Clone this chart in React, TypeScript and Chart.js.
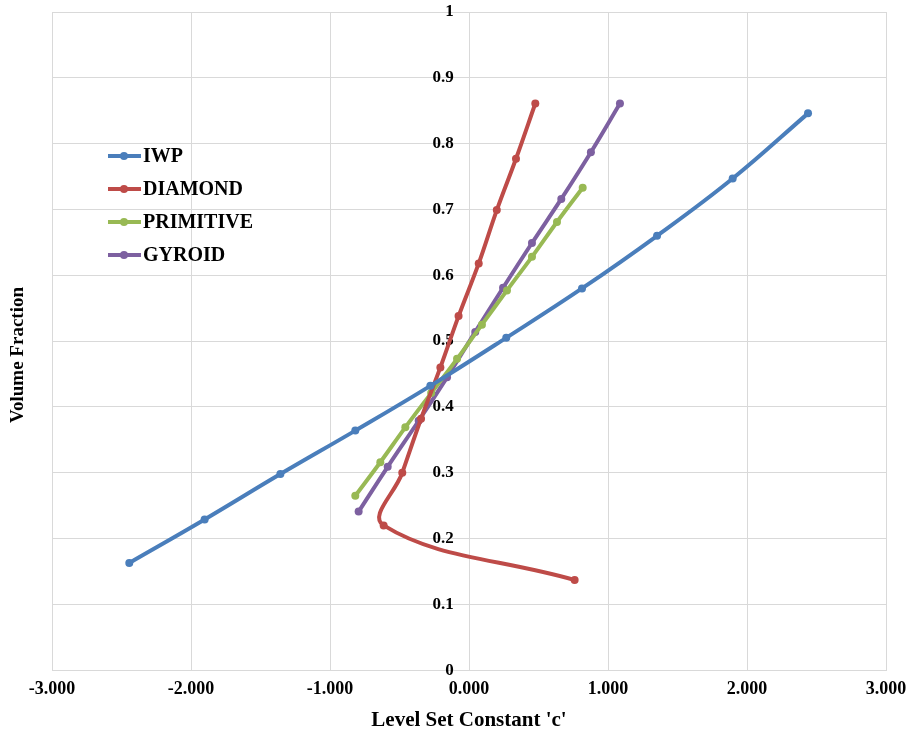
import React, { useEffect, useRef } from "react";
import { Chart, registerables } from "chart.js";

Chart.register(...registerables);

const SERIES_NAMES = ["IWP", "DIAMOND", "PRIMITIVE", "GYROID"];
const SERIES_COLORS = ["#4A7EBB", "#BE4B48", "#98B954", "#7D60A0"];

const IWP_X = [-2.444, -1.902, -1.357, -0.818, -0.278, 0.268, 0.813, 1.353, 1.897, 2.439];
const IWP_Y = [0.163, 0.229, 0.298, 0.364, 0.432, 0.505, 0.580, 0.660, 0.747, 0.846];

const DIAMOND_X = [0.76, -0.614, -0.48, -0.345, -0.206, -0.075, 0.07, 0.2, 0.338, 0.477];
const DIAMOND_Y = [0.137, 0.220, 0.300, 0.382, 0.460, 0.538, 0.618, 0.699, 0.777, 0.861];

const PRIMITIVE_X = [-0.818, -0.638, -0.458, -0.272, -0.086, 0.093, 0.273, 0.453, 0.633, 0.818];
const PRIMITIVE_Y = [0.265, 0.316, 0.369, 0.421, 0.473, 0.525, 0.577, 0.628, 0.681, 0.733];

const GYROID_X = [-0.794, -0.585, -0.362, -0.158, 0.045, 0.245, 0.453, 0.664, 0.877, 1.086];
const GYROID_Y = [0.241, 0.309, 0.379, 0.445, 0.514, 0.581, 0.649, 0.716, 0.787, 0.861];

const X_TITLE = "Level Set Constant 'c'";
const Y_TITLE = "Volume Fraction";

const FONT_FAMILY = "'Liberation Serif', 'Times New Roman', serif";

function pairs(xs: number[], ys: number[]) {
  return xs.map((x, i) => ({ x, y: ys[i] }));
}

const customDecor = {
  id: "customDecor",
  afterDraw(chart: any) {
    const ctx = chart.ctx;
    ctx.save();
    ctx.translate(18, 355);
    ctx.rotate(-Math.PI / 2);
    ctx.font = `bold 19px ${FONT_FAMILY}`;
    ctx.fillStyle = "#000";
    ctx.textAlign = "center";
    ctx.textBaseline = "middle";
    ctx.fillText(Y_TITLE, 0, 0);
    ctx.restore();

    ctx.save();
    ctx.font = `bold 20px ${FONT_FAMILY}`;
    ctx.textBaseline = "middle";
    ctx.textAlign = "left";
    SERIES_NAMES.forEach((name, i) => {
      const y = 156 + i * 33;
      ctx.strokeStyle = SERIES_COLORS[i];
      ctx.lineWidth = 4;
      ctx.beginPath();
      ctx.moveTo(108, y);
      ctx.lineTo(141, y);
      ctx.stroke();
      ctx.fillStyle = SERIES_COLORS[i];
      ctx.beginPath();
      ctx.arc(124, y, 4, 0, Math.PI * 2);
      ctx.fill();
      ctx.fillStyle = "#000";
      ctx.fillText(name, 143, y + 1);
    });
    ctx.restore();
  },
};

export default function App() {
  const canvasRef = useRef<HTMLCanvasElement | null>(null);

  useEffect(() => {
    if (!canvasRef.current) return;
    const allX = [IWP_X, DIAMOND_X, PRIMITIVE_X, GYROID_X];
    const allY = [IWP_Y, DIAMOND_Y, PRIMITIVE_Y, GYROID_Y];
    const chart = new Chart(canvasRef.current, {
      type: "scatter",
      data: {
        datasets: SERIES_NAMES.map((name, i) => ({
          label: name,
          data: pairs(allX[i], allY[i]),
          showLine: true,
          borderColor: SERIES_COLORS[i],
          backgroundColor: SERIES_COLORS[i],
          borderWidth: 4,
          pointRadius: 4,
          pointHoverRadius: 4,
          pointBorderWidth: 0,
          tension: 0.4,
        })),
      },
      options: {
        animation: false,
        responsive: false,
        maintainAspectRatio: false,
        layout: { padding: { left: 52, right: 21, top: 12, bottom: 1 } },
        plugins: {
          legend: { display: false },
          tooltip: { enabled: false },
        },
        scales: {
          x: {
            type: "linear",
            min: -3,
            max: 3,
            position: "bottom",
            afterFit: (s: any) => {
              s.paddingLeft = 0;
              s.paddingRight = 0;
            },
            ticks: {
              stepSize: 1,
              padding: 8,
              color: "#000",
              font: { family: FONT_FAMILY, size: 18, weight: "bold" },
              callback: (v: any) => Number(v).toFixed(3),
            },
            grid: { color: "#D9D9D9", lineWidth: 1, drawTicks: false },
            border: { color: "#D9D9D9" },
            title: {
              display: true,
              text: X_TITLE,
              color: "#000",
              font: { family: FONT_FAMILY, size: 21, weight: "bold" },
              padding: { top: 0, bottom: 0 },
            },
          },
          y: {
            type: "linear",
            min: 0,
            max: 1,
            position: { x: -0.11 } as any,
            afterFit: (s: any) => {
              s.paddingTop = 0;
              s.paddingBottom = 0;
            },
            ticks: {
              stepSize: 0.1,
              padding: 10,
              color: "#000",
              font: { family: FONT_FAMILY, size: 17, weight: "bold" },
              callback: (v: any) => String(Number(Number(v).toFixed(1))),
            },
            grid: { color: "#D9D9D9", lineWidth: 1, drawTicks: false },
            border: { display: false },
          },
        },
      },
      plugins: [customDecor],
    });
    return () => chart.destroy();
  }, []);

  return (
    <div style={{ position: "fixed", left: 0, top: 0, width: 907, height: 734, background: "#fff" }}>
      <canvas ref={canvasRef} width={907} height={734} style={{ width: 907, height: 734 }} />
    </div>
  );
}
